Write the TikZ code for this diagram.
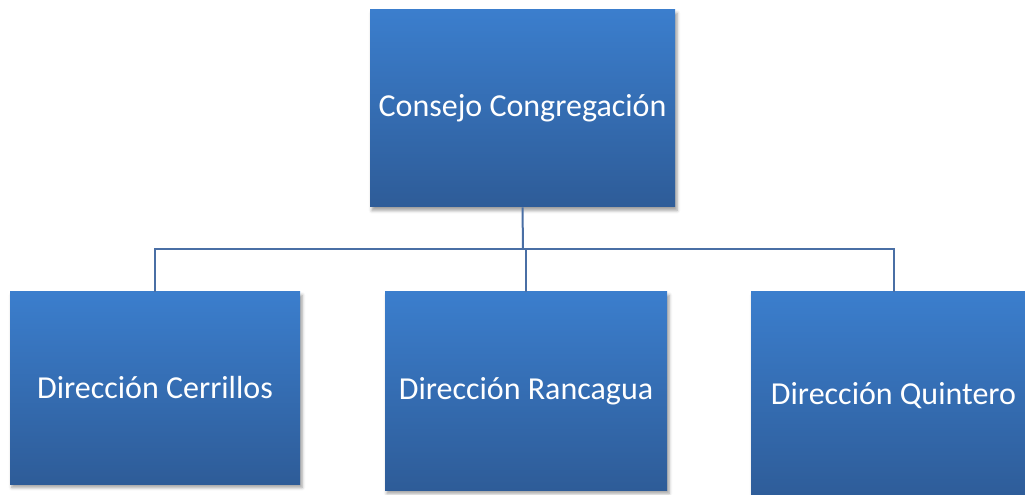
\documentclass[tikz,border=0pt]{standalone}
\usepackage{fontspec}
\setmainfont{Carlito}
\usetikzlibrary{shadows.blur}
\definecolor{boxtop}{RGB}{59, 126, 205}
\definecolor{boxbottom}{RGB}{46, 92, 152}
\definecolor{wire}{RGB}{74, 111, 165}

\begin{document}
\begin{tikzpicture}[x=0.75pt, y=-0.75pt,
    unit/.style={rectangle, inner sep=0pt, text=white,
      top color=boxtop, bottom color=boxbottom,
      font=\fontsize{24}{28}\selectfont,
      blur shadow={shadow xshift=1.5pt, shadow yshift=-2.5pt,
        shadow blur radius=2.5pt, shadow opacity=40}},
    wire/.style={draw=wire, line width=1.5pt}]
      \useasboundingbox (0, 0) rectangle (1025, 495);
      \node[unit, minimum width=228.75pt, minimum height=147.75pt] (consejo)   at (522.5, 108.5) {Consejo Congregación};
      \node[unit, minimum width=217.5pt,  minimum height=144pt]    (cerrillos) at (155, 388)     {Dirección Cerrillos};
      \node[unit, minimum width=211.5pt,  minimum height=148.5pt]  (rancagua)  at (526, 391)     {Dirección Rancagua};
      \node[unit, minimum width=213.75pt, minimum height=156pt]    (quintero)  at (893.5, 396)   {Dirección Quintero};
      \coordinate (bus) at (523, 249);
      \draw[wire] (consejo.south) -- (bus);
      \draw[wire] (cerrillos.north) |- (bus) -| (quintero.north);
      \draw[wire] (rancagua.north) |- (bus);
    \end{tikzpicture}
\end{document}
